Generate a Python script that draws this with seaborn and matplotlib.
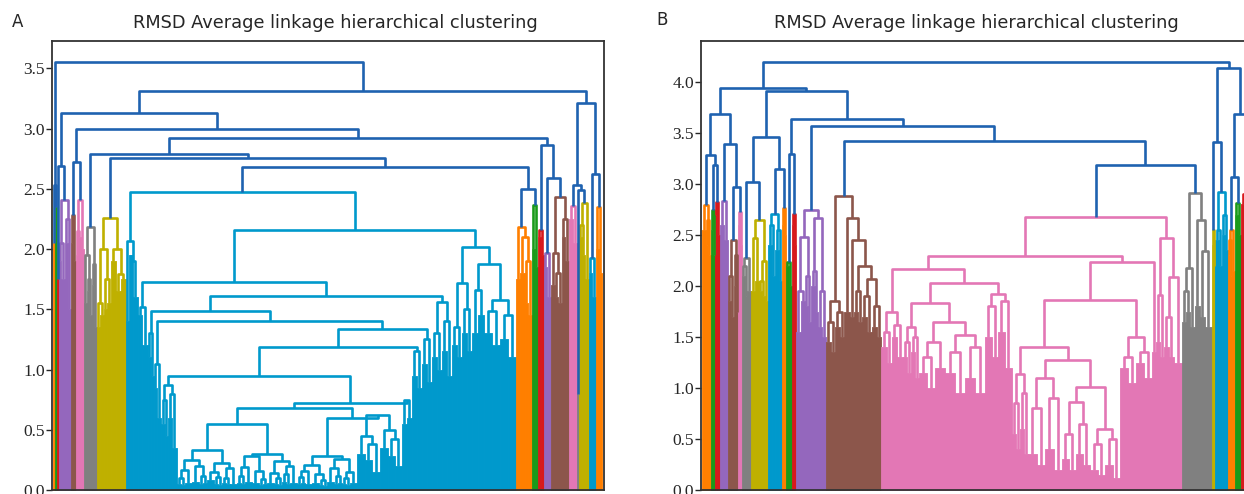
import matplotlib
matplotlib.use("Agg")
import matplotlib.pyplot as plt
import seaborn as sns

# ---------------------------------------------------------------
# dendrogram data: internal node = [height, left, right]
#                  dense leaf group = (n_leaves, top height)
# ---------------------------------------------------------------

# ---- panel A -------------------------------------------------
a_orange1 = (2, 2.05)
a_green1 = (2, 2.35)
a_red1 = (2, 1.75)
a_purple1 = [2.41, [2.05, (2, 1.9), (4, 1.75)], [2.25, (3, 2.05), (3, 1.5)]]
a_brown1 = [2.28, (2, 2.05), (3, 1.9)]
a_pink1 = [2.41, [2.15, (2, 1.95), (3, 2.1)], (3, 2.0)]
a_gray1 = [2.18, [1.95, (3, 1.55), [1.75, (2, 1.65), (3, 1.45)]], [1.88, (2, 1.7), (3, 1.35)]]
a_olive1 = [2.26, [2.0, [1.55, (3, 1.35), (4, 1.45)], [1.75, (3, 1.5), (4, 1.55)]],
            [2.0, (5, 1.9), [1.79, (5, 1.65), (5, 1.75)]]]

# big cyan cluster
a_sb1 = [0.25, [0.17, [0.10, (4, 0.05), (4, 0.04)], (7, 0.06)], [0.20, (7, 0.07), [0.12, (4, 0.05), (4, 0.06)]]]
a_sb2 = [0.22, [0.15, (7, 0.08), [0.11, (4, 0.05), (4, 0.04)]], [0.18, [0.10, (4, 0.06), (4, 0.05)], (7, 0.05)]]
a_sb3 = [0.28, [0.19, [0.12, (4, 0.06), (4, 0.05)], (7, 0.07)], [0.16, (7, 0.06), [0.09, (4, 0.04), (4, 0.05)]]]
a_sb4 = [0.24, [0.14, (7, 0.06), [0.10, (4, 0.05), (4, 0.04)]], [0.20, [0.13, (4, 0.07), (4, 0.05)], (7, 0.06)]]
a_sb5 = [0.21, [0.16, [0.11, (4, 0.05), (4, 0.06)], (7, 0.05)], [0.13, (7, 0.06), [0.08, (4, 0.04), (4, 0.03)]]]
a_sb6 = [0.26, [0.18, (7, 0.07), [0.12, (4, 0.05), (4, 0.06)]], [0.15, [0.10, (4, 0.05), (4, 0.04)], (7, 0.06)]]
a_spiky = [0.62, [0.45, (8, 0.3), [0.38, (7, 0.25), (8, 0.15)]], [0.50, (8, 0.35), [0.42, (7, 0.28), (7, 0.2)]]]
a_bush = [0.68, [0.55, [0.33, a_sb1, a_sb2], [0.30, a_sb3, a_sb4]], [0.60, [0.28, a_sb5, a_sb6], a_spiky]]

a_cyan_left = [2.07, (3, 1.40), [1.90, (4, 1.95), (5, 1.60)]]
a_c2 = [1.52, (4, 1.45), (6, 1.20)]
a_c6 = [1.30, (3, 1.10), (3, 0.95)]
a_c8 = [1.05, (3, 0.85), (4, 0.60)]
a_c14 = [0.87, [0.75, (4, 0.55), (3, 0.45)], [0.80, (4, 0.60), (5, 0.35)]]
a_c15 = [0.75, (5, 0.55), (5, 0.60)]
a_c13 = [1.15, (5, 0.95), (5, 0.85)]
a_c11 = [1.25, (5, 1.05), (5, 0.90)]
a_c5 = [1.56, [1.30, (5, 1.10), (5, 1.00)], [1.40, (5, 1.15), (5, 0.95)]]
a_x1 = [1.72, [1.35, (5, 1.20), (5, 1.10)], [1.50, (5, 1.30), (5, 1.15)]]
a_x2 = [1.88, [1.66, (6, 1.30), (6, 1.45)], [1.58, [1.49, (8, 1.30), (8, 1.20)], [1.45, (8, 1.25), (8, 1.10)]]]
a_c12 = [0.95, a_c14, [0.72, a_bush, a_c15]]
a_c9 = [1.34, [1.19, a_c12, a_c13], a_c11]
a_c3 = [1.61, [1.49, a_c6, [1.40, a_c8, a_c9]], a_c5]
a_cyan = [2.47, a_cyan_left, [2.16, [1.73, a_c2, a_c3], [2.02, a_x1, a_x2]]]

a_orange2 = [2.18, (4, 1.75), [2.10, (5, 1.8), [1.90, (3, 1.55), (4, 1.45)]]]
a_green2 = [2.37, (3, 2.0), (3, 1.85)]
a_red2 = [2.16, (3, 2.1), (3, 1.95)]
a_purple2 = [1.97, (3, 1.85), (4, 1.6)]
a_brown2 = [2.43, [1.97, (4, 1.7), [1.80, (3, 1.6), (4, 1.55)]], [2.25, (3, 2.1), (4, 1.9)]]
a_pink2 = [2.36, (4, 2.25), (4, 2.05)]
a_gray2 = (2, 0.8)
a_olive2 = [2.38, [2.20, (3, 2.1), (3, 1.95)], (4, 1.75)]
a_cyan2 = [1.93, (3, 1.8), (4, 1.6)]
a_orange3 = [2.35, (3, 2.0), (3, 1.8)]

a_n14 = [2.68, a_cyan, [2.50, a_orange2, a_green2]]
a_n9 = [2.79, a_gray1, [2.755, a_olive1, a_n14]]
a_n8 = [2.92, a_n9, [2.86, a_red2, [2.59, a_purple2, a_brown2]]]
a_n3 = [3.13, [2.69, a_red1, a_purple1], [3.0, [2.72, a_brown1, a_pink1], a_n8]]
a_n4 = [3.21, [2.53, a_pink2, [2.49, a_gray2, a_olive2]], [2.62, a_cyan2, a_orange3]]
tree_a = [3.55, [2.53, a_orange1, a_green1], [3.31, a_n3, a_n4]]

# ---- panel B -------------------------------------------------
b_orange1 = [2.79, (4, 2.55), [2.65, (2, 2.4), (3, 2.3)]]
b_green1 = [2.75, (2, 2.55), (2, 2.3)]
b_red1 = [2.82, (2, 2.7), (3, 2.5)]
b_purple1 = [2.83, (4, 2.6), (4, 2.45)]
b_brown1 = [2.45, [2.10, (3, 1.85), (3, 1.7)], [2.30, (2, 2.0), (2, 1.75)]]
b_pink1 = [2.73, (2, 2.6), (2, 2.4)]
b_gray1 = [2.27, [2.20, (3, 2.1), (2, 1.9)], (4, 1.95)]
b_olive1 = [2.65, [2.47, (4, 1.95), (4, 2.05)], [2.25, [2.05, (3, 1.95), (3, 1.9)], (3, 1.85)]]
b_cyan1 = [2.71, [2.60, (4, 2.4), (3, 2.1)], [2.55, (4, 2.35), (3, 2.05)]]
b_orange2 = [2.76, (2, 2.6), (2, 2.5)]
b_green2 = [2.24, (3, 2.2), (3, 2.0)]
b_red2 = [2.71, (2, 2.6), (2, 2.4)]
b_purple2 = [2.75, [2.48, [1.95, (5, 1.55), (4, 1.85)], [2.10, (3, 1.8), (3, 1.65)]],
             [2.67, [2.15, (4, 2.0), (3, 1.75)], [1.95, (4, 1.6), (4, 1.5)]]]
b_brown2 = [2.88, [1.85, [1.65, (5, 1.45), (4, 1.35)], [1.75, (5, 1.6), (4, 1.5)]],
            [2.67, (6, 1.75), [2.45, (4, 1.7), [2.20, [1.95, (4, 1.75), (4, 1.65)],
                                                 [2.07, [1.90, (5, 1.7), (5, 1.55)], [1.80, (5, 1.6), (4, 1.5)]]]]]]

b_p3 = [1.75, [1.55, (6, 1.4), (5, 1.25)], [1.62, (5, 1.5), (6, 1.3)]]
b_p7 = [1.60, [1.45, (4, 1.3), (4, 1.15)], [1.50, (4, 1.35), (4, 1.1)]]
b_p8 = [1.65, [1.45, [1.30, (8, 1.15), (8, 1.0)], (10, 1.2)],
        [1.52, [1.35, (10, 1.15), (10, 0.95)], [1.40, (10, 1.1), (10, 0.95)]]]
b_p6 = [1.92, [1.80, (7, 1.5), (6, 1.3)], [1.85, (7, 1.55), (7, 1.2)]]
b_p13 = [1.14, [0.85, (4, 0.55), (4, 0.4)], [0.95, (4, 0.6), (4, 0.35)]]
b_p15 = [1.10, [0.80, (9, 0.35), (8, 0.25)], [0.90, (9, 0.4), (8, 0.2)]]
b_p16 = [1.01, [0.86, [0.55, (7, 0.3), (7, 0.2)], [0.65, (7, 0.35), (7, 0.25)]],
         [0.60, [0.45, (8, 0.2), (7, 0.15)], [0.50, (8, 0.25), (7, 0.12)]]]
b_p12 = [1.50, [1.30, (8, 1.2), (8, 1.05)], [1.35, (8, 1.25), (8, 1.1)]]
b_p10 = (4, 1.35)
b_pink_left = [2.29, [2.17, b_p3, [2.03, [1.83, b_p7, b_p8], b_p6]],
               [2.24, [1.86, [1.40, b_p13, [1.27, b_p15, b_p16]], b_p12], b_p10]]
b_pink_right = [2.47, [1.91, (4, 1.45), (4, 1.3)], [2.09, [1.70, (5, 1.4), (5, 1.3)], (8, 1.25)]]
b_pink2 = [2.68, b_pink_left, b_pink_right]

b_gray2 = [2.91, [2.18, [1.95, (4, 1.65), (4, 1.75)], (5, 1.6)], [2.65, (5, 1.8), [2.34, (5, 1.7), (7, 1.6)]]]
b_olive2 = [2.55, (2, 2.4), (1, 2.2)]
b_cyan2 = [2.92, [2.55, (4, 2.45), (3, 2.2)], [2.70, (3, 2.5), (3, 2.35)]]
b_orange3 = [2.55, [2.45, (2, 2.3), (2, 2.1)], (3, 2.15)]
b_green3 = [2.81, (3, 2.7), (3, 2.5)]
b_red3 = [2.90, (4, 2.8), (6, 2.6)]

b_a1 = [3.69, [3.28, b_orange1, [3.19, b_green1, b_red1]], [3.39, b_purple1, [2.97, b_brown1, b_pink1]]]
b_a9 = [3.46, [3.02, b_gray1, b_olive1], [3.15, b_cyan1, b_orange2]]
b_a14 = [3.57, b_purple2, [3.42, b_brown2, [3.19, b_pink2, b_gray2]]]
b_a2 = [3.91, b_a9, [3.64, [3.29, b_green2, b_red2], b_a14]]
b_rr = [4.14, [3.41, b_olive2, b_cyan2], [3.69, [3.07, b_orange3, b_green3], b_red3]]
tree_b = [4.20, [3.94, b_a1, b_a2], b_rr]

yticks_a = [0.0, 0.5, 1.0, 1.5, 2.0, 2.5, 3.0, 3.5]
yticks_b = [0.0, 0.5, 1.0, 1.5, 2.0, 2.5, 3.0, 3.5, 4.0]
title = "RMSD Average linkage hierarchical clustering"

# ---------------------------------------------------------------
sns.set_style("white")
palette = ["#ff7f00", "#1a9a1a", "#d7191c", "#9467bd", "#8c564b",
           "#e377b5", "#808080", "#bfb000", "#0099cc"]
above_color = "#1f62b0"
LW = 1.9


def max_height(node):
    return node[1] if isinstance(node, tuple) else node[0]


def draw(ax, node, x0, thr, pal, color=None):
    if isinstance(node, tuple):
        w, h = node
        if color is None:
            color = next(pal)
        ax.fill_between([x0, x0 + w], 0, h, color=color, lw=0.6, edgecolor=color)
        return x0 + w / 2, h, x0 + w
    h, left, right = node
    if color is None and h < thr:
        color = next(pal)
    cl, hl, x1 = draw(ax, left, x0, thr, pal, color)
    cr, hr, x2 = draw(ax, right, x1, thr, pal, color)
    c = above_color if color is None else color
    ax.plot([cl, cl, cr, cr], [hl, h, h, hr], color=c, lw=LW, solid_capstyle="butt")
    return (cl + cr) / 2, h, x2


def cycle(p):
    while True:
        for c in p:
            yield c


def panel(ax, tree, yticks, ymax, xmax, title_x):
    thr = 0.7 * max_height(tree)
    draw(ax, tree, 0.0, thr, cycle(palette))
    ax.set_xlim(-0.6, xmax)
    ax.set_ylim(0, ymax)
    ax.set_xticks([])
    ax.set_yticks(yticks)
    ax.set_yticklabels([f"{t:.1f}" for t in yticks])
    ax.tick_params(axis="y", direction="out", length=4, width=1, pad=1, left=True,
                   labelsize=12.5, labelfontfamily="Liberation Serif")
    for s in ax.spines.values():
        s.set_color("#333333")
        s.set_linewidth(1.3)
    ax.set_title(title, fontsize=12.8, family="DejaVu Sans", pad=9, x=title_x)


fig = plt.figure(figsize=(12.44, 4.94), dpi=100)
ax_a = fig.add_axes([52 / 1244, 4 / 494, 552 / 1244, 449.3 / 494])
ax_b = fig.add_axes([701 / 1244, 4 / 494, 551 / 1244, 449.3 / 494])
panel(ax_a, tree_a, yticks_a, 3.73, 551.4, 0.514)
panel(ax_b, tree_b, yticks_b, 4.405, 550.4, 0.5)
fig.text(12 / 1244, 1 - 22 / 494, "A", fontsize=12, family="DejaVu Sans", va="center")
fig.text(656 / 1244, 1 - 20 / 494, "B", fontsize=12, family="DejaVu Sans", va="center")
fig.savefig("out.png", dpi=100)
